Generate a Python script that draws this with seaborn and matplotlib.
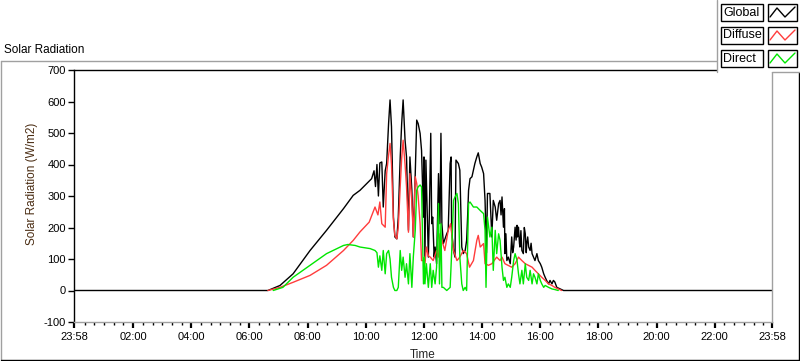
import numpy as np
import pandas as pd
import matplotlib
matplotlib.use("Agg")
import matplotlib.pyplot as plt
import seaborn as sns
from matplotlib.lines import Line2D
from matplotlib.patches import Rectangle

# ---- data (time in minutes since midnight, values in W/m2) ----
global_min = [-2, 398, 423, 450, 485, 519, 554, 574, 588, 607, 612, 617, 620, 623, 626, 629, 633, 636, 640,
              643, 647, 650, 653, 657, 660, 664, 667, 671, 674, 677, 681, 684, 688, 691, 695, 698, 702, 705,
              708, 712, 715, 719, 720, 722, 724, 727, 729, 731, 734, 736, 738, 741, 743, 746, 750, 753, 755,
              757, 760, 767, 770, 774, 776, 777, 781, 784, 786, 791, 794, 798, 801, 805, 808, 810, 812, 815,
              819, 822, 825, 829, 832, 836, 839, 843, 846, 849, 851, 856, 860, 863, 867, 870, 874, 877, 879,
              881, 883, 884, 886, 887, 889, 891, 894, 898, 901, 903, 905, 908, 910, 912, 913, 915, 917, 918,
              920, 922, 925, 927, 929, 931, 932, 934, 936, 939, 941, 943, 946,
              949, 953, 956, 960, 963, 967, 970, 973, 977, 980, 984, 987, 990, 994, 1001, 1008, 1438]
global_vals = [0, 0, 16, 53, 127, 191, 260, 302, 318, 347, 355, 380, 330, 400, 300, 405, 408, 265, 380,
               403, 530, 605, 520, 233, 170, 164, 233, 424, 530, 605, 477, 424, 191, 424, 318, 170, 371, 541,
               530, 499, 445, 233, 424, 95, 414, 223, 106, 233, 499, 212, 233, 106, 138, 85, 371, 212, 499,
               212, 149, 180, 191, 403, 424, 191, 127, 106, 414, 403, 382, 138, 117, 127, 159, 233, 318, 355,
               361, 382, 403, 424, 437, 403, 392, 371, 286, 120, 308, 308, 170, 286, 265, 223, 276, 286, 240,
               297, 230, 201, 260, 117, 180, 95, 106, 85, 170, 120, 138, 201, 160, 207, 170, 201, 150, 138,
               190, 127, 117, 200, 180, 120, 148, 170, 138, 127, 150, 117, 106,
               95, 117, 95, 85, 74, 53, 42, 32, 21, 32, 21, 32, 27, 10, 5, 0, 0]

diffuse_min = [398, 423, 450, 485, 519, 554, 574, 588, 607, 619, 625, 629, 633, 640, 643, 647, 650, 653,
               657, 660, 664, 667, 671, 674, 677, 681, 684, 688, 691, 695, 698, 702, 705, 708, 712, 715, 719,
               722, 725, 729, 733, 739, 746, 750, 753, 757, 763, 770, 775, 781, 788, 794, 801, 808, 814, 822,
               829, 832, 836, 843, 846, 853, 860, 870, 877, 881, 887, 901, 908, 915, 922, 929, 943, 949, 956,
               963, 970, 977, 984, 990, 997, 1004]
diffuse_vals = [0, 10, 26, 48, 80, 127, 159, 186, 217, 265, 240, 281, 212, 201, 371, 430, 467, 400,
                223, 175, 164, 200, 330, 420, 477, 400, 330, 185, 371, 280, 170, 361, 340, 300, 212, 95, 95,
                85, 138, 110, 106, 95, 127, 106, 180, 159, 127, 191, 212, 127, 95, 106, 127, 117, 74, 95,
                159, 175, 138, 149, 85, 80, 85, 106, 95, 106, 85, 74, 85, 106, 95, 85, 74, 64, 53,
                42, 32, 21, 16, 10, 5, 0]

direct_min = [409, 429, 450, 485, 519, 554, 563, 578, 588, 609, 619, 623, 626, 629, 633, 636, 640, 643,
              647, 650, 653, 657, 660, 664, 667, 671, 674, 677, 681, 684, 688, 691, 695, 698, 702, 705, 708,
              712, 715, 719, 721, 722, 725, 729, 733, 736, 739, 743, 746, 750, 752, 755, 757, 760, 767, 774,
              777, 781, 784, 788, 791, 794, 798, 801, 805, 808, 812, 815, 822, 829, 836, 843, 846, 848, 851,
              856, 860, 863, 867, 870, 874, 877, 881, 884, 887, 891, 894, 898, 901, 905, 908, 912, 915, 918,
              922, 925, 929, 932, 936, 939, 943, 946, 949, 953, 956, 960, 963, 967, 970, 977, 984, 990, 997]
direct_vals = [0, 10, 42, 80, 117, 143, 146, 143, 138, 133, 127, 120, 74, 110, 64, 127, 53, 117,
               127, 100, 42, 10, 0, 0, 10, 127, 64, 106, 42, 85, 21, 117, 10, 106, 191, 318, 329,
               335, 329, 21, 106, 21, 85, 10, 85, 10, 64, 21, 74, 276, 21, 212, 10, 10, 0, 10,
               117, 286, 297, 308, 276, 106, 21, 0, 10, 0, 276, 281, 265, 265, 254, 244, 191, 10, 233,
               170, 201, 64, 191, 117, 180, 159, 74, 32, 42, 10, 21, 10, 42, 95, 117, 95, 53, 21,
               64, 21, 85, 42, 32, 64, 21, 53, 42, 21, 53, 32, 21, 10, 16, 10, 5, 3, 0]

series_names = ["Global", "Diffuse", "Direct"]
series_colors = ["#000000", "#ff3c3c", "#00e600"]
y_ticks = [-100, 0, 100, 200, 300, 400, 500, 600, 700]
x_tick_pos = [-2, 120, 240, 360, 480, 600, 720, 840, 960, 1080, 1200, 1320, 1438]
x_tick_labels = ["23:58", "02:00", "04:00", "06:00", "08:00", "10:00", "12:00",
                 "14:00", "16:00", "18:00", "20:00", "22:00", "23:58"]

df = pd.concat([
    pd.DataFrame({"Time": global_min, "Value": global_vals, "Series": "Global"}),
    pd.DataFrame({"Time": diffuse_min, "Value": diffuse_vals, "Series": "Diffuse"}),
    pd.DataFrame({"Time": direct_min, "Value": direct_vals, "Series": "Direct"}),
], ignore_index=True)

sns.set_style("white")
plt.rcParams["font.family"] = ["Liberation Sans", "DejaVu Sans"]

W, H = 800, 361
fig = plt.figure(figsize=(8.0, 3.61), dpi=100)
fig.patch.set_facecolor("white")

def fx(px):
    return px / W

def fy(py):
    return 1 - py / H

L, R, T, B = 74, 772, 70, 322
ax = fig.add_axes([fx(L), fy(B), fx(R) - fx(L), fy(T) - fy(B)])
sns.lineplot(data=df, x="Time", y="Value", hue="Series", hue_order=series_names,
             palette=dict(zip(series_names, series_colors)), estimator=None,
             linewidth=1.0, legend=False, ax=ax)

ax.set_xlim(-2, 1438)
ax.set_ylim(-100, 700)
ax.set_yticks(y_ticks)
ax.set_yticklabels([str(v) for v in y_ticks])
ax.set_xticks(x_tick_pos)
ax.set_xticklabels(x_tick_labels)
minors = [m for m in range(20, 1440, 20) if m % 120 != 0]
ax.set_xticks(minors, minor=True)
ax.tick_params(axis="y", which="major", left=True, direction="out", length=4, width=1,
               color="black", labelsize=8, pad=2, labelcolor="black")
ax.tick_params(axis="x", which="major", bottom=True, direction="out", length=4, width=1.6,
               color="black", labelsize=8, pad=3, labelcolor="black")
ax.tick_params(axis="x", which="minor", bottom=True, direction="out", length=2.5, width=1,
               color="black")
ax.set_xlabel("Time", fontsize=8.5, labelpad=5)
ax.set_ylabel("Solar Radiation (W/m2)", fontsize=8.5, color="#4a2c12")
ax.yaxis.set_label_coords(-0.052, 0.55)
ax.grid(False)
ax.set_facecolor("white")
for side, col in (("left", "black"), ("top", "black"), ("right", "#a0a0a0"), ("bottom", "#a0a0a0")):
    ax.spines[side].set_visible(True)
    ax.spines[side].set_color(col)
    ax.spines[side].set_linewidth(1.0)

# outer frame
fig.add_artist(Line2D([fx(1), fx(1)], [fy(61), fy(360)], color="#a0a0a0", lw=1))
fig.add_artist(Line2D([fx(1), fx(717)], [fy(61), fy(61)], color="#a0a0a0", lw=1))
fig.add_artist(Line2D([fx(1), fx(799)], [fy(360), fy(360)], color="black", lw=1))
fig.add_artist(Line2D([fx(799), fx(799)], [fy(72), fy(360)], color="black", lw=1))

# title
fig.text(fx(4), fy(50), "Solar Radiation", fontsize=8.5, ha="left", va="center", color="black")

# legend container
fig.add_artist(Rectangle((fx(717), fy(72)), fx(800) - fx(717), fy(0) - fy(72),
                         transform=fig.transFigure, facecolor="white", edgecolor="none", zorder=5))
fig.add_artist(Line2D([fx(717), fx(717)], [fy(0), fy(72)], color="#a0a0a0", lw=1, zorder=6))
fig.add_artist(Line2D([fx(772), fx(800)], [fy(72), fy(72)], color="#a0a0a0", lw=1, zorder=6))

for i, (name, col) in enumerate(zip(series_names, series_colors)):
    top = 4 + i * 23
    bot = top + 17
    fig.add_artist(Rectangle((fx(721), fy(bot)), fx(763) - fx(721), fy(top) - fy(bot),
                             transform=fig.transFigure, facecolor="white", edgecolor="black",
                             lw=1, zorder=7))
    fig.add_artist(Rectangle((fx(768), fy(bot)), fx(797) - fx(768), fy(top) - fy(bot),
                             transform=fig.transFigure, facecolor="white", edgecolor="black",
                             lw=1, zorder=7))
    fig.text(fx(723), fy((top + bot) / 2), name, fontsize=9, ha="left", va="center",
             color="black", zorder=8)
    zx = [fx(770), fx(777), fx(785), fx(795)]
    zy = [fy(bot - 4), fy(top + 4), fy(bot - 4), fy(top + 3)]
    fig.add_artist(Line2D(zx, zy, color=col, lw=1, zorder=8))

fig.savefig("out.png", dpi=100, facecolor="white")
